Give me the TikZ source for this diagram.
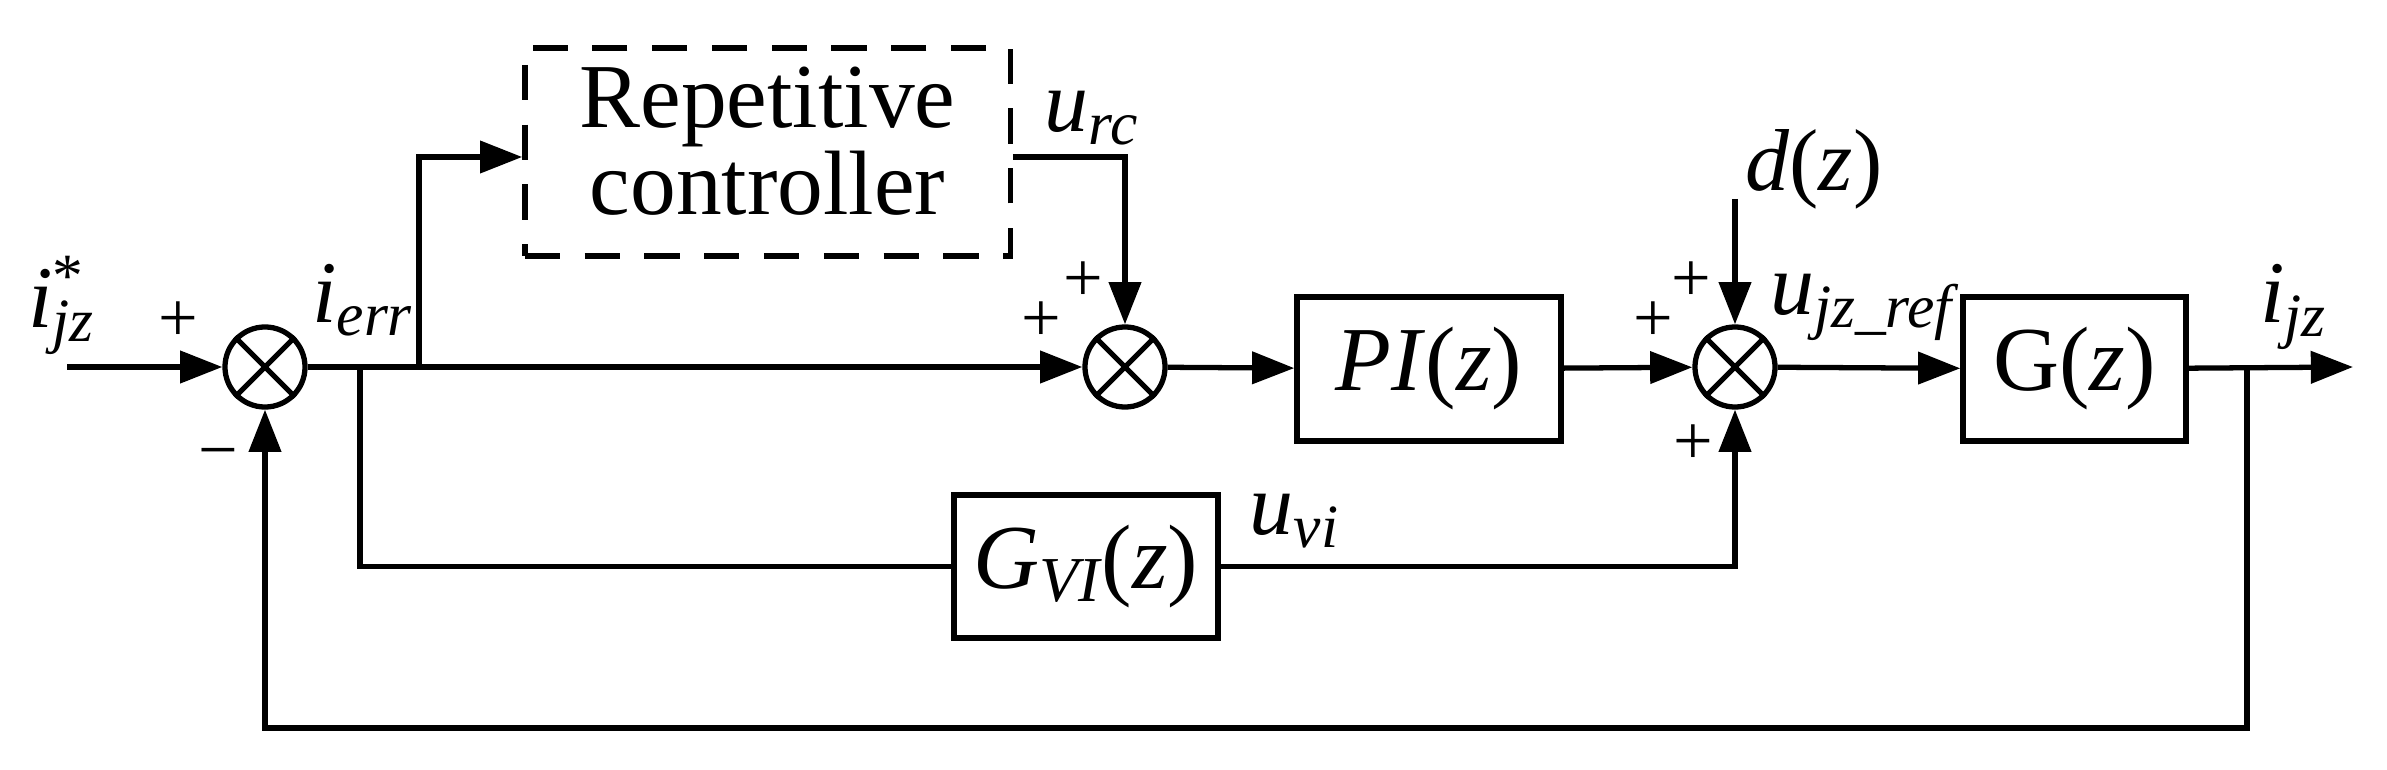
\documentclass[tikz,border=0pt]{standalone}
\usepackage{fontspec}
\setmainfont{Liberation Serif}
\usetikzlibrary{shapes.geometric,arrows.meta}
\begin{document}
\begin{tikzpicture}[x=0.01cm,y=-0.01cm,line width=1.5pt,
  >={Triangle[length=12pt,width=9pt]},
  blk/.style={draw,rectangle,inner sep=0pt,font=\fontsize{26}{27}\selectfont},
  sum/.style={draw,circle,minimum size=0.8cm,inner sep=0pt},
  lab/.style={font=\fontsize{25}{27}\selectfont},
  sg/.style={font=\fontsize{20}{22}\selectfont}]
\useasboundingbox (0,0) rectangle (2387,770);
\node[sum] (s1) at (265,367) {};
\node[sum] (s2) at (1125,367) {};
\node[sum] (s3) at (1735,367) {};
\foreach \s in {s1,s2,s3}{
  \draw (\s.north west) -- (\s.south east) (\s.north east) -- (\s.south west);}
\node[blk,dashed,dash pattern=on 10pt off 7pt,minimum width=4.85cm,minimum height=2.08cm] (rc) at (767.5,152) {\begin{tabular}{c}Repetitive\\[-2pt]controller\end{tabular}};
\node[blk,minimum width=2.64cm,minimum height=1.44cm] (pi) at (1429,369) {\textit{PI}(\textit{z})};
\node[blk,minimum width=2.23cm,minimum height=1.44cm] (g) at (2074.5,369) {G(\textit{z})};
\node[blk,minimum width=2.64cm,minimum height=1.43cm] (gvi) at (1086,566.5) {\textit{G}\textsubscript{\itshape VI}(\textit{z})};
\coordinate (in) at (67,367);
\coordinate (e1) at (360,367);
\coordinate (e2) at (419,367);
\coordinate (dtop) at (1735,199);
\coordinate (tap) at (2247,367);
\coordinate (out) at (2353,367);
\draw[->] (in) -- (s1);
\draw (s1) -- (e1);
\draw[->] (e1) -- (s2);
\draw[->] (e2) |- (rc.west |- 0,157);
\draw[->] (rc.east |- 0,157) -| (s2);
\draw[->] (s2) -- (pi);
\draw[->] (pi) -- (s3);
\draw[->] (dtop) -- (s3);
\draw[->] (s3) -- (g);
\draw[->] (g) -- (out);
\draw (e1) |- (gvi);
\draw[->] (gvi) -| (s3);
\draw[->] (tap) |- (265,728) -- (s1);
\node[lab] (l1) at (62,305) {\textit{i}\rlap{\textsuperscript{*}}\textsubscript{\itshape jz}};
\node[lab] (l2) at (363,300) {\textit{i}\textsubscript{\itshape err}};
\node[lab] (l3) at (1092,118) {\textit{u}\textsubscript{\itshape rc}};
\node[lab] (l4) at (1814,169) {\textit{d}(\textit{z})};
\node[lab] (l5) at (1862,307) {\textit{u}\textsubscript{\itshape jz\_ref}};
\node[lab] (l6) at (2294,307) {\textit{i}\textsubscript{\itshape jz}};
\node[lab] (l7) at (1295,521) {\textit{u}\textsubscript{\itshape vi}};
\node[sg] at (178,322) {+};
\node[sg] at (218,461) {−};
\node[sg] at (1083,282) {+};
\node[sg] at (1041,322) {+};
\node[sg] at (1691,282) {+};
\node[sg] at (1653,322) {+};
\node[sg] at (1693,445) {+};
\end{tikzpicture}
\end{document}
